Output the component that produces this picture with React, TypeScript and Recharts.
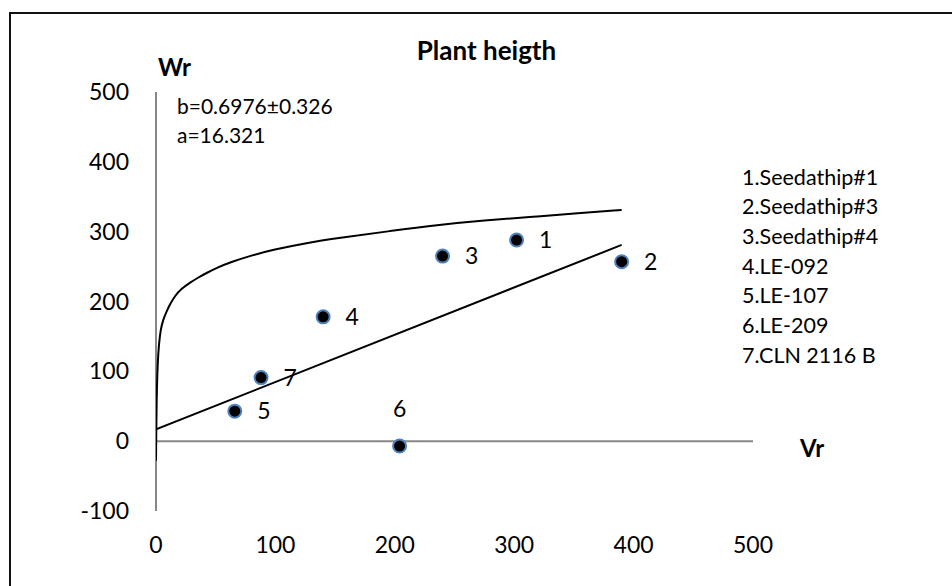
import { ComposedChart, Line, Scatter, XAxis, YAxis, ReferenceLine } from "recharts";

// genotypes, numbered as in the key on the right
const genotypeNames = [
  "Seedathip#1",
  "Seedathip#3",
  "Seedathip#4",
  "LE-092",
  "LE-107",
  "LE-209",
  "CLN 2116 B",
];
const vrValues = [302, 390, 240, 140, 66, 204, 88];
const wrValues = [288, 257, 265, 178, 43, -7, 91];

// regression line Wr = a + b Vr (end points)
const regVr = [0, 390];
const regWr = [17, 281];

// limiting curve
const curveVr = [0, 0.2, 0.5, 1.4, 2.5, 3.9, 6, 8.4, 12, 15.9, 21, 28.5, 35, 42.5, 52, 62, 80, 98, 126, 154, 196, 238, 275, 313, 350, 390];
const curveWr = [-28, 10, 60, 113, 140, 160, 174, 184, 197, 208, 218, 227, 234, 241, 249, 256, 266, 274, 284, 291, 301, 310, 316, 321, 326, 331];

const xTicks = [0, 100, 200, 300, 400, 500];
const yTicks = [-100, 0, 100, 200, 300, 400, 500];

const FONT = "Lato, Carlito, Calibri, sans-serif";

const points = vrValues.map((x, i) => ({ x, y: wrValues[i], no: i + 1 }));
const regression = regVr.map((x, i) => ({ x, y: regWr[i] }));
const curve = curveVr.map((x, i) => ({ x, y: curveWr[i] }));

const LABEL_ABOVE = [6];

function PointMark(props: any) {
  const { cx, cy, payload } = props;
  const above = LABEL_ABOVE.includes(payload.no);
  return (
    <g>
      <circle cx={cx} cy={cy} r={6.5} fill="#000" stroke="#4f81bd" strokeWidth={2} />
      <text
        x={above ? cx : cx + 29}
        y={above ? cy - 37 : cy}
        dy="0.35em"
        textAnchor="middle"
        fontFamily={FONT}
        fontSize={23}
        fill="#000"
      >
        {payload.no}
      </text>
    </g>
  );
}

export default function App() {
  const tick = { fill: "#000", fontSize: 23, fontFamily: FONT };
  return (
    <div
      style={{
        position: "absolute",
        left: 0,
        top: 0,
        width: 952,
        height: 586,
        overflow: "hidden",
        background: "#fff",
      }}
    >
      {/* chart frame, runs off the right and bottom edges */}
      <div
        style={{
          position: "absolute",
          left: 9,
          top: 12,
          width: 1000,
          height: 700,
          border: "2px solid #111",
          boxSizing: "border-box",
        }}
      />
      <div style={{ position: "absolute", left: 0, top: 0 }}>
        <ComposedChart
          width={952}
          height={586}
          margin={{ top: 92, right: 199, bottom: 15, left: 96 }}
        >
          <XAxis
            type="number"
            dataKey="x"
            domain={[0, 500]}
            ticks={xTicks}
            axisLine={false}
            tickLine={false}
            tickSize={0}
            tickMargin={26}
            height={60}
            tick={tick}
            allowDataOverflow
          />
          <YAxis
            type="number"
            dataKey="y"
            domain={[-100, 500]}
            ticks={yTicks}
            axisLine={false}
            tickLine={false}
            tickSize={0}
            tickMargin={27}
            width={60}
            tick={tick}
            allowDataOverflow
          />
          <ReferenceLine y={0} stroke="#878787" strokeWidth={2} />
          <ReferenceLine x={0} stroke="#878787" strokeWidth={2} />
          <Line
            data={curve}
            dataKey="y"
            type="basis"
            stroke="#000"
            strokeWidth={2}
            dot={false}
            isAnimationActive={false}
          />
          <Line
            data={regression}
            dataKey="y"
            type="linear"
            stroke="#000"
            strokeWidth={2}
            dot={false}
            isAnimationActive={false}
          />
          <Scatter data={points} dataKey="y" shape={PointMark} isAnimationActive={false} />
        </ComposedChart>
      </div>
      <svg
        width={952}
        height={586}
        style={{ position: "absolute", left: 0, top: 0, pointerEvents: "none" }}
        fontFamily={FONT}
      >
        <text x={486.5} y={51} dy="0.35em" textAnchor="middle" fontSize={26} fontWeight="bold">
          Plant heigth
        </text>
        <text x={158} y={68} dy="0.35em" fontSize={24} fontWeight="bold">
          Wr
        </text>
        <text x={800} y={449} dy="0.35em" fontSize={24} fontWeight="bold">
          Vr
        </text>
        <text x={177} y={107} dy="0.35em" fontSize={21}>
          b=0.6976±0.326
        </text>
        <text x={177} y={136} dy="0.35em" fontSize={21}>
          a=16.321
        </text>
        {genotypeNames.map((name, i) => (
          <text key={name} x={742} y={177 + i * 29.7} dy="0.35em" fontSize={21.5}>
            {`${i + 1}.${name}`}
          </text>
        ))}
      </svg>
    </div>
  );
}
